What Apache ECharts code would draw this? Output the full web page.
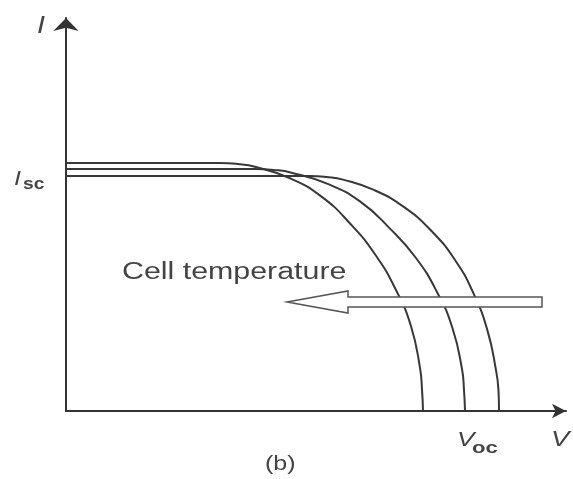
<!DOCTYPE html>
<html>
<head>
<meta charset="utf-8">
<script src="https://cdn.jsdelivr.net/npm/echarts@6/dist/echarts.min.js"></script>
<style>
html,body{margin:0;padding:0;background:#fff;}
#chart{width:573px;height:479px;}
</style>
</head>
<body>
<div id="chart"></div>
<script>
// Curve data (V, I) in arbitrary units
// Highest cell temperature (lowest Voc, highest Isc)
const hotV = [0, 30.8, 34.3, 37.8, 44.7, 51.1, 56.9, 61.9, 66.0, 69.0, 70.8, 71.2, 71.4];
const hotI = [62, 62, 61.75, 61.05, 58.25, 53.6, 46.75, 39, 30.25, 21.2, 10.8, 5.4, 0];
// Medium cell temperature
const midV = [0, 37.8, 41.5, 45.1, 52.2, 58.8, 64.8, 70.0, 74.2, 77.3, 79.2, 79.6, 79.8];
const midI = [60.5, 60.5, 60.27, 59.58, 56.85, 52.4, 45.6, 38.25, 29.75, 20.7, 10.5, 5.25, 0];
// Lowest cell temperature (highest Voc, lowest Isc)
const coldV = [0, 48.8, 52.1, 55.4, 61.7, 67.7, 73.1, 77.8, 81.5, 84.3, 86.0, 86.5, 86.6];
const coldI = [58.75, 58.75, 58.5, 57.85, 55.2, 50.9, 45, 37.75, 29.4, 20.1, 10.2, 5.1, 0];

const arrowLabel = 'Cell temperature';
const yName = 'I';
const xName = 'V';
const iscMain = 'I', iscSub = 'sc';
const vocMain = 'V', vocSub = 'oc';
const caption = '(b)';

function pairs(xs, ys){ return xs.map((x,i)=>[x, ys[i]]); }

const chart = echarts.init(document.getElementById('chart'));
const lineStyle = {color:'#383838', width:2};
const font = 'Liberation Sans, Arial, sans-serif';
const txtColor = '#444';

chart.setOption({
  animation:false,
  backgroundColor:'#fff',
  grid:{left:66, right:7, top:18, bottom:68, containLabel:false},
  xAxis:{
    type:'value', min:0, max:100,
    axisLine:{show:true, symbol:['none','arrow'], symbolSize:[11,14], lineStyle:{color:'#333', width:2}},
    axisTick:{show:false}, axisLabel:{show:false}, splitLine:{show:false}
  },
  yAxis:{
    type:'value', min:0, max:98.25,
    axisLine:{show:true, symbol:['none','arrow'], symbolSize:[19,13], lineStyle:{color:'#333', width:2}},
    axisTick:{show:false}, axisLabel:{show:false}, splitLine:{show:false}
  },
  series:[
    {name:'High temperature', type:'line', data:pairs(hotV, hotI), smooth:0.5, symbol:'none', lineStyle:lineStyle},
    {name:'Medium temperature', type:'line', data:pairs(midV, midI), smooth:0.5, symbol:'none', lineStyle:lineStyle},
    {name:'Low temperature', type:'line', data:pairs(coldV, coldI), smooth:0.5, symbol:'none', lineStyle:lineStyle}
  ],
  graphic:[
    {type:'polygon', z:100,
     shape:{points:[[287,302],[348,291],[348,297],[542,297],[542,307],[348,307],[348,313]]},
     style:{fill:'#fff', stroke:'#555', lineWidth:1.5}},
    {type:'text', z:100, x:122, y:273, scaleX:1.32,
     style:{text:arrowLabel, font:'23px '+font, fill:txtColor, verticalAlign:'middle', align:'left'}},
    {type:'text', z:100, x:37, y:27, scaleX:1.25,
     style:{text:yName, font:'italic 23px '+font, fill:txtColor, verticalAlign:'middle', align:'left'}},
    {type:'text', z:100, x:14, y:179, scaleX:1.25,
     style:{text:iscMain, font:'italic 20px '+font, fill:txtColor, verticalAlign:'middle', align:'left'}},
    {type:'text', z:100, x:23, y:185, scaleX:1.2,
     style:{text:iscSub, font:'bold 16px '+font, fill:txtColor, verticalAlign:'middle', align:'left'}},
    {type:'text', z:100, x:457, y:440, scaleX:1.25,
     style:{text:vocMain, font:'italic 21px '+font, fill:txtColor, verticalAlign:'middle', align:'left'}},
    {type:'text', z:100, x:472, y:448, scaleX:1.3,
     style:{text:vocSub, font:'bold 17px '+font, fill:txtColor, verticalAlign:'middle', align:'left'}},
    {type:'text', z:100, x:551, y:440, scaleX:1.25,
     style:{text:xName, font:'italic 22px '+font, fill:txtColor, verticalAlign:'middle', align:'left'}},
    {type:'text', z:100, x:265, y:464, scaleX:1.25,
     style:{text:caption, font:'20px '+font, fill:txtColor, verticalAlign:'middle', align:'left'}}
  ]
});
</script>
</body>
</html>
